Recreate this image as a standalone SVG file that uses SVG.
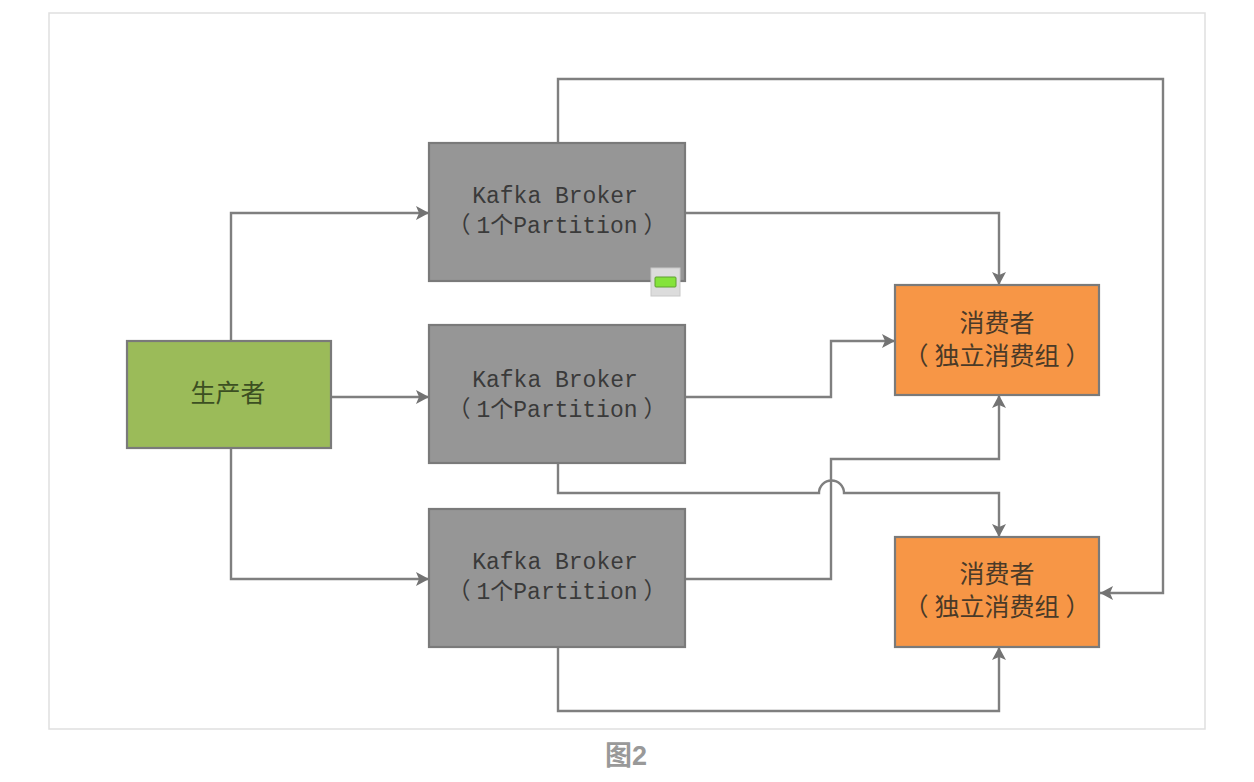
<svg xmlns="http://www.w3.org/2000/svg" width="1254" height="782" viewBox="0 0 1254 782">
<defs>
<marker id="arrow" viewBox="0 0 14 14" refX="13" refY="7" markerWidth="14" markerHeight="14" markerUnits="userSpaceOnUse" orient="auto"><path d="M0,0 L13,7 L0,14 L3,7 Z" fill="#737373"/></marker>
</defs>
<style>
.box{stroke:#7a7a7a;stroke-width:2.2}
.c{fill:none;stroke:#7f7f7f;stroke-width:2.4;marker-end:url(#arrow)}
text{text-anchor:middle;text-spacing-trim:space-all}
.m{font-size:23px;font-family:"Liberation Mono","Noto Sans CJK SC",monospace;fill:#3a3a3a}
.z{font-size:25px;font-family:"Noto Sans CJK SC","Liberation Sans",sans-serif;fill:#4a3a28}
</style>
<rect x="49" y="13" width="1156" height="716" fill="#fff" stroke="#dfdfdf" stroke-width="1.5"/>
<g id="connectors">
<path class="c" d="M231,341V213H429"/>
<path class="c" d="M331,397H429"/>
<path class="c" d="M231,448V579H429"/>
<path class="c" d="M558,143V79H1163V593H1100"/>
<path class="c" d="M685,213H999V285"/>
<path class="c" d="M685,397H831V341H895"/>
<path class="c" d="M558,463V493H819A12,12 0 0 1 844,493H999V537"/>
<path class="c" d="M685,579H831V459H999V395"/>
<path class="c" d="M558,647V711H999V647"/>
</g>
<g id="producer"><rect class="box" x="127" y="341" width="204" height="107" fill="#9bbb59"/><text class="z" x="228" y="402" style="fill:#3c4f22">生产者</text></g>
<g id="broker1"><rect class="box" x="429" y="143" width="256" height="138" fill="#969696"/><text class="m" x="555" y="203">Kafka Broker</text><text class="m" x="557" y="233">（<tspan dx="6">1个Partition</tspan><tspan dx="6">）</tspan></text></g>
<g id="broker2"><rect class="box" x="429" y="325" width="256" height="138" fill="#969696"/><text class="m" x="555" y="387">Kafka Broker</text><text class="m" x="557" y="417">（<tspan dx="6">1个Partition</tspan><tspan dx="6">）</tspan></text></g>
<g id="broker3"><rect class="box" x="429" y="509" width="256" height="138" fill="#969696"/><text class="m" x="555" y="569">Kafka Broker</text><text class="m" x="557" y="599">（<tspan dx="6">1个Partition</tspan><tspan dx="6">）</tspan></text></g>
<g id="consumer1"><rect class="box" x="895" y="285" width="204" height="110" fill="#f79646"/><text class="z" x="997" y="332">消费者</text><text class="z" x="997" y="365">（<tspan dx="6">独立消费组</tspan><tspan dx="6">）</tspan></text></g>
<g id="consumer2"><rect class="box" x="895" y="537" width="204" height="110" fill="#f79646"/><text class="z" x="997" y="583">消费者</text><text class="z" x="997" y="616">（<tspan dx="6">独立消费组</tspan><tspan dx="6">）</tspan></text></g>
<g id="badge"><rect x="651" y="268" width="29" height="28" fill="#dcdcdc" stroke="#c8c8c8"/><rect x="655" y="277" width="21" height="10" rx="1" fill="#84e33a" stroke="#5fa030"/></g>
<text id="caption" x="626" y="765" font-family="Liberation Sans,Noto Sans CJK SC,sans-serif" font-size="27" font-weight="700" fill="#999">图2</text>
</svg>
